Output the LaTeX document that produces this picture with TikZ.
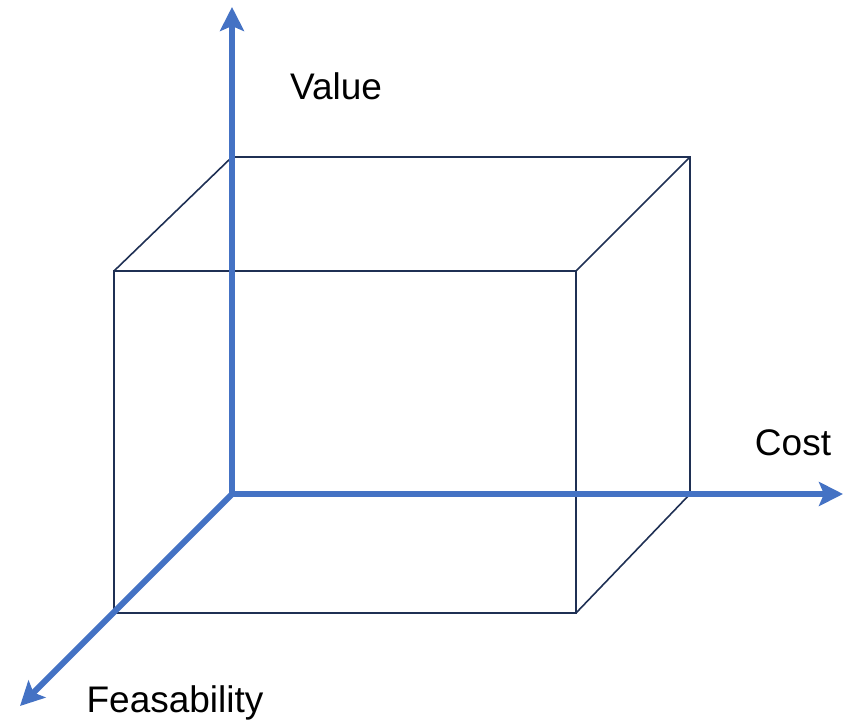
\documentclass[tikz,border=0pt]{standalone}
\usepackage{fontspec}
\setmainfont{Liberation Sans}
\usetikzlibrary{arrows.meta}
\definecolor{axisblue}{RGB}{68,114,196}
\definecolor{boxnavy}{RGB}{31,48,84}
\begin{document}
\begin{tikzpicture}[x=1pt,y=-1pt,
  axis/.style={draw=axisblue,line width=6pt,-{Stealth[length=24pt,width=24pt,inset=5pt]}},
  boxline/.style={draw=boxnavy,line width=1.6pt,line join=miter},
  lbl/.style={font=\fontsize{37}{44}\selectfont,inner sep=0pt,anchor=center}]
\useasboundingbox (0,0) rectangle (845,723);
% coordinates
\coordinate (O) at (232,494);
\coordinate (Vtop) at (232,7);
\coordinate (Cend) at (843,494);
\coordinate (Fend) at (20,706);
\coordinate (bTL) at (232,157);
\coordinate (bTR) at (690,157);
\coordinate (bBR) at (690,494);
\coordinate (fTL) at (114,271);
\coordinate (fTR) at (576,271);
\coordinate (fBR) at (576,613);
\coordinate (fBL) at (114,613);
% box
\draw[boxline] (fTL) -- (fTR) -- (fBR) -- (fBL) -- cycle;
\draw[boxline] (fTL) -- (bTL) -- (bTR) -- (bBR);
\draw[boxline] (fTR) -- (bTR);
\draw[boxline] (fBR) -- (bBR);
% axes
\draw[axis] (O) -- (Vtop);
\draw[axis] (O) -- (Cend);
\draw[axis] (O) -- (Fend);
% labels
\node[lbl] (value) at (336,86) {Value};
\node[lbl] (cost) at (793,443) {Cost};
\node[lbl] (feas) at (175,703) {Feasability};
\end{tikzpicture}
\end{document}
